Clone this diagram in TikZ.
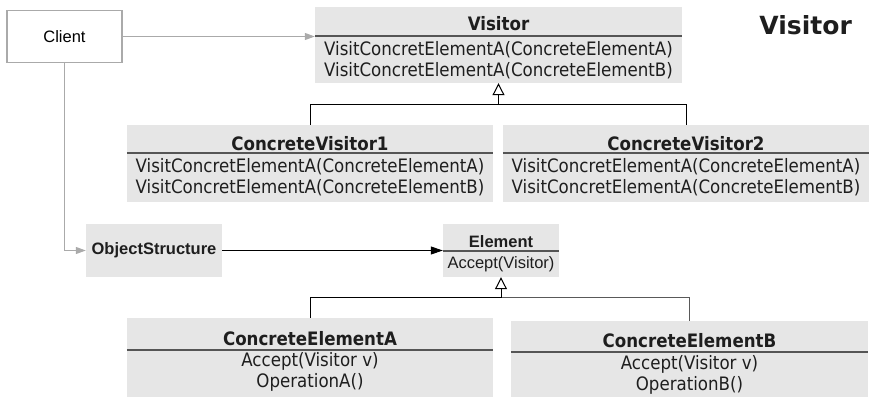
\documentclass[tikz,border=0pt]{standalone}
\usepackage{fontspec}
\setmainfont{Liberation Sans}
\newfontfamily\umlfont{DejaVu Sans Condensed}
\newfontfamily\headfont{DejaVu Sans}
\usepackage{tikz}
\usetikzlibrary{arrows.meta,positioning}

\definecolor{boxgray}{RGB}{230,230,230}
\definecolor{clientgray}{RGB}{170,170,170}
\definecolor{divgray}{RGB}{85,85,85}
\definecolor{textdark}{RGB}{30,30,30}

\begin{document}
\begin{tikzpicture}[
  x=1pt, y=-1pt,
  >={Triangle[length=10pt,width=7pt]},
  classbox/.style={fill=boxgray, inner sep=0pt},
  clientbox/.style={draw=clientgray, line width=1.1pt, fill=white, inner sep=0pt,
    minimum width=115pt, minimum height=52pt},
  ctitle/.style={inner sep=0pt, text=textdark,
    font={\umlfont\bfseries\fontsize{18.5}{21}\selectfont}},
  cmeth/.style={inner sep=0pt, text=textdark, align=center,
    font={\umlfont\fontsize{18.5}{21}\selectfont}},
  stitle/.style={inner sep=0pt, text=textdark, font={\bfseries\fontsize{16.5}{20}\selectfont}},
  smeth/.style={inner sep=0pt, text=textdark, font={\fontsize{16.5}{20}\selectfont}},
  divider/.style={draw=divgray, line width=1.4pt},
  uses/.style={->, draw=clientgray, line width=1.1pt, clientgray},
  assoc/.style={->, line width=1pt, >={Triangle[length=12pt,width=8pt]}},
  genline/.style={line width=1pt},
  inherit/.style={-{Triangle[open,length=12pt,width=12pt]}, line width=1pt}
]
\useasboundingbox (0,0) rectangle (873,399);

% ---- title ----
\node[anchor=east, inner sep=0pt, text=textdark,
      font={\headfont\bfseries\fontsize{25}{29}\selectfont}] (heading) at (852,25) {Visitor};

% ---- client ----
\node[clientbox] (client) at (64.5,36.5) {\fontsize{16.5}{20}\selectfont Client};

% ---- visitor hierarchy ----
\node[classbox, minimum width=367pt, minimum height=76pt] (visitor) at (498.5,45) {};
\node[ctitle] (visitor-t) at ([yshift=-17pt]visitor.north) {Visitor};
\draw[divider] ([yshift=-29pt]visitor.north west) -- ([yshift=-29pt]visitor.north east);
\node[cmeth] (visitor-m) at ([yshift=-53pt]visitor.north)
  {VisitConcretElementA(ConcreteElementA)\\VisitConcretElementA(ConcreteElementB)};

\node[classbox, minimum width=366pt, minimum height=77pt] (cv1) at (310,163.5) {};
\node[ctitle] (cv1-t) at ([yshift=-19pt]cv1.north) {ConcreteVisitor1};
\draw[divider] ([yshift=-28pt]cv1.north west) -- ([yshift=-28pt]cv1.north east);
\node[cmeth] (cv1-m) at ([yshift=-52pt]cv1.north)
  {VisitConcretElementA(ConcreteElementA)\\VisitConcretElementA(ConcreteElementB)};

\node[classbox, minimum width=366pt, minimum height=77pt] (cv2) at (686,163.5) {};
\node[ctitle] (cv2-t) at ([yshift=-19pt]cv2.north) {ConcreteVisitor2};
\draw[divider] ([yshift=-28pt]cv2.north west) -- ([yshift=-28pt]cv2.north east);
\node[cmeth] (cv2-m) at ([yshift=-52pt]cv2.north)
  {VisitConcretElementA(ConcreteElementA)\\VisitConcretElementA(ConcreteElementB)};

% ---- element hierarchy ----
\node[classbox, minimum width=136pt, minimum height=53pt] (objs) at (154,250.5) {};
\node[stitle] (objs-t) at (objs.center) {ObjectStructure};

\node[classbox, minimum width=116pt, minimum height=53pt] (element) at (501,250.5) {};
\node[stitle] (element-t) at ([yshift=-18pt]element.north) {Element};
\draw[divider] ([yshift=-27pt]element.north west) -- ([yshift=-27pt]element.north east);
\node[smeth] (element-m) at ([yshift=-40pt]element.north) {Accept(Visitor)};

\node[classbox, minimum width=366pt, minimum height=79pt] (cea) at (310,357.5) {};
\node[ctitle] (cea-t) at ([yshift=-21pt]cea.north) {ConcreteElementA};
\draw[divider] ([yshift=-32pt]cea.north west) -- ([yshift=-32pt]cea.north east);
\node[cmeth] (cea-m) at ([yshift=-54.5pt]cea.north) {Accept(Visitor v)\\OperationA()};

\node[classbox, minimum width=357pt, minimum height=76pt] (ceb) at (689.5,359) {};
\node[ctitle] (ceb-t) at ([yshift=-19.5pt]ceb.north) {ConcreteElementB};
\draw[divider] ([yshift=-31pt]ceb.north west) -- ([yshift=-31pt]ceb.north east);
\node[cmeth] (ceb-m) at ([yshift=-54pt]ceb.north) {Accept(Visitor v)\\OperationB()};

% ---- connectors ----
\coordinate (vbus) at (498.5,104.5);
\coordinate (ebus) at (501,297.5);
\draw[uses] (client.east) -- (client.east -| visitor.west);
\draw[uses] (client.south) |- (objs.west);
\draw[assoc] (objs.east) -- (element.west);
\draw[genline] (cv1.north) |- (vbus) -| (cv2.north);
\draw[inherit] (vbus) -- (visitor.south);
\draw[genline] (cea.north) |- (ebus);
\draw[genline, draw=black!65] (ebus) -| (ceb.north);
\draw[inherit] (ebus) -- (element.south);
\end{tikzpicture}
\end{document}
